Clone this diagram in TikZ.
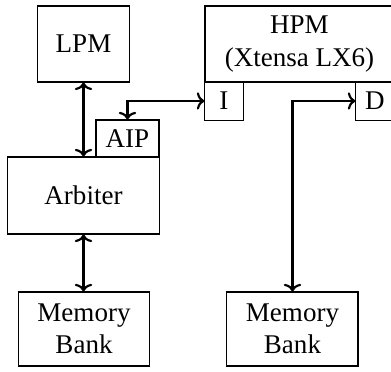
\documentclass[tikz,border=0pt]{standalone}
\usepackage{fontspec}
\setmainfont{Liberation Serif}
\usepackage{tikz}
\usetikzlibrary{positioning, arrows.meta}

\tikzset{
  block/.style={draw, inner sep=0pt, align=center, font=\fontsize{10}{12}\selectfont},
  port/.style={block, minimum width=14.1pt, minimum height=14.1pt},
  link/.style={thick, arrows={Computer Modern Rightarrow[width=6.4pt,length=2.8pt]-Computer Modern Rightarrow[width=6.4pt,length=2.8pt]}}
}

\begin{document}
\begin{tikzpicture}[x=0.37pt, y=-0.37pt]
    \useasboundingbox (0,0) rectangle (391,372);

    \node[block, minimum width=33.7pt, minimum height=28.1pt] (lpm) at (83.5,44) {LPM};
    \node[block, minimum width=69.9pt, minimum height=28.1pt] (hpm) at (299.5,44) {HPM\\(Xtensa LX6)};
    \node[port] (ibus) at (224,101) {I};
    \node[port] (dbus) at (375,101) {D};
    \node[block, minimum width=23.3pt, minimum height=13.7pt] (aip) at (127.5,138.5) {AIP};
    \node[block, minimum width=55.9pt, minimum height=28.5pt] (arb) at (83.5,195.5) {Arbiter};
    \node[block, minimum width=48.8pt, minimum height=27.4pt] (mem1) at (84,329) {Memory\\Bank};
    \node[block, minimum width=48.5pt, minimum height=27.4pt] (mem2) at (292.5,329) {Memory\\Bank};

    \draw[link] (lpm.south) -- (arb.north);
    \draw[link] (aip.north) |- (ibus.west);
    \draw[link] (arb.south) -- (arb.south |- mem1.north);
    \draw[link] (dbus.west) -| (mem2.north);
\end{tikzpicture}
\end{document}
